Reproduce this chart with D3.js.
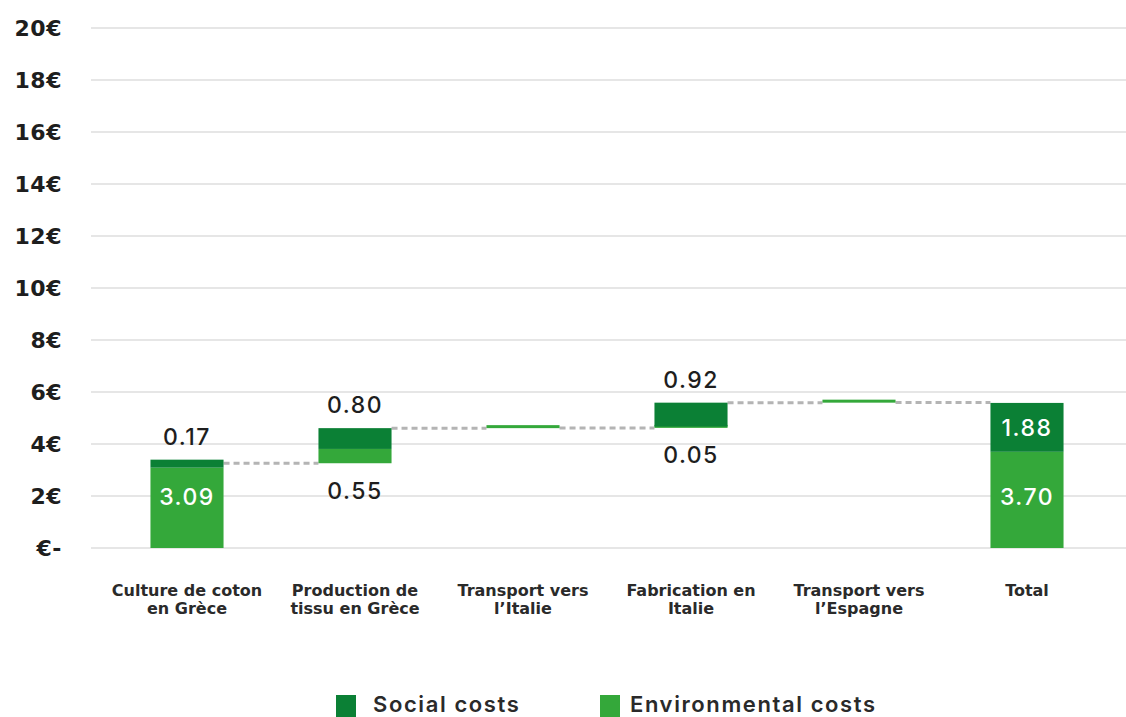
<!DOCTYPE html>
<html>
<head>
<meta charset="utf-8">
<script src="https://cdn.jsdelivr.net/npm/d3@7"></script>
<style>
  body { margin: 0; background: #fff; }
  svg { display: block; font-family: Inter, "Open Sans", sans-serif; }
</style>
</head>
<body>
<svg id="chart" width="1126" height="717"></svg>
<script>
// data
const categories = [
  ["Culture de coton", "en Grèce"],
  ["Production de", "tissu en Grèce"],
  ["Transport vers", "l\u2019Italie"],
  ["Fabrication en", "Italie"],
  ["Transport vers", "l\u2019Espagne"],
  ["Total"]
];
const envCosts = [3.09, 0.55, 0.01, 0.05, 0.01];
const socialCosts = [0.17, 0.80, 0, 0.92, 0];
const totalEnv = 3.70;
const totalSocial = 1.88;
const yTicks = [0, 2, 4, 6, 8, 10, 12, 14, 16, 18, 20];
const seriesNames = ["Social costs", "Environmental costs"];

const DARK = "#0b8035", LIGHT = "#34a83a";

const svg = d3.select("#chart");

const x = d3.scaleBand()
  .domain(d3.range(categories.length))
  .range([103, 1111])
  .paddingInner(0.565)
  .paddingOuter(0.2825);

const y = d3.scaleLinear().domain([0, 20]).range([548, 28]);

// gridlines
svg.append("g")
  .selectAll("line")
  .data(yTicks)
  .join("line")
    .attr("x1", 91).attr("x2", 1126)
    .attr("y1", d => y(d)).attr("y2", d => y(d))
    .attr("stroke", "#e6e6e6")
    .attr("stroke-width", 2);

// y labels
svg.append("g")
  .selectAll("text")
  .data(yTicks)
  .join("text")
    .attr("x", 62)
    .attr("y", d => y(d))
    .attr("dy", "0.36em")
    .attr("text-anchor", "end")
    .attr("font-family", "DejaVu Sans")
    .attr("font-size", 22)
    .attr("font-weight", 700)
    .attr("letter-spacing", 0.5)
    .attr("fill", "#1e1e1e")
    .text(d => d === 0 ? "\u20ac-" : d + "\u20ac");

// waterfall steps
let base = 0;
const steps = envCosts.map((e, i) => {
  const s = socialCosts[i];
  const st = {i, env: e, social: s, y0: base, y1: base + e, y2: base + e + s};
  base += e + s;
  return st;
});

const bw = x.bandwidth();
const g = svg.append("g");

// connectors
const conn = g.append("g");
steps.forEach((d, i) => {
  conn.append("line")
    .attr("x1", x(i) + bw).attr("x2", x(i + 1))
    .attr("y1", y(d.y2)).attr("y2", y(d.y2))
    .attr("stroke", "#b4b4b4")
    .attr("stroke-width", 3)
    .attr("stroke-dasharray", "6,4");
});

steps.forEach(d => {
  const bx = x(d.i);
  const hEnv = Math.max(3, y(d.y0) - y(d.y1));
  g.append("rect")
    .attr("x", bx).attr("width", bw)
    .attr("y", y(d.y0) - hEnv).attr("height", hEnv)
    .attr("fill", LIGHT);
  if (d.social > 0) {
    const hS = Math.max(8, y(d.y1) - y(d.y2));
    g.append("rect")
      .attr("x", bx).attr("width", bw)
      .attr("y", y(d.y1) - hS).attr("height", hS)
      .attr("fill", DARK);
  }
});

// total bar
const ti = categories.length - 1;
g.append("rect")
  .attr("x", x(ti)).attr("width", bw)
  .attr("y", y(totalEnv)).attr("height", y(0) - y(totalEnv))
  .attr("fill", LIGHT);
g.append("rect")
  .attr("x", x(ti)).attr("width", bw)
  .attr("y", y(totalEnv + totalSocial)).attr("height", y(totalEnv) - y(totalEnv + totalSocial))
  .attr("fill", DARK);

// value labels
const lab = svg.append("g")
  .attr("font-size", 23)
  .attr("font-weight", 500)
  .attr("letter-spacing", 1.5)
  .attr("text-anchor", "middle");

function label(i, yy, txt, color) {
  lab.append("text")
    .attr("x", x(i) + bw / 2)
    .attr("y", yy)
    .attr("dy", "0.36em")
    .attr("fill", color)
    .text(txt);
}

const envLabelY = y(totalEnv / 2) - 3;
steps.forEach(d => {
  const cx = d.i;
  const top = y(d.y1) - Math.max(8, y(d.y1) - y(d.y2));
  if (d.i === 0) {
    label(cx, envLabelY, d.env.toFixed(2), "#fff");
    label(cx, top - 23, d.social.toFixed(2), "#1e1e1e");
  } else if (d.social > 0) {
    label(cx, top - 23, d.social.toFixed(2), "#1e1e1e");
    label(cx, y(d.y0) + 27, d.env.toFixed(2), "#1e1e1e");
  }
});
label(ti, envLabelY, totalEnv.toFixed(2), "#fff");
label(ti, y(totalEnv + totalSocial / 2), totalSocial.toFixed(2), "#fff");

// category labels
const cat = svg.append("g")
  .attr("font-family", "DejaVu Sans")
  .attr("font-size", 16)
  .attr("font-weight", 700)
  .attr("letter-spacing", 0)
  .attr("fill", "#2a2a2a")
  .attr("text-anchor", "middle");
categories.forEach((lines, i) => {
  const t = cat.append("text")
    .attr("x", x(i) + bw / 2)
    .attr("y", 596);
  lines.forEach((l, k) => {
    t.append("tspan")
      .attr("x", x(i) + bw / 2)
      .attr("dy", k === 0 ? 0 : 18)
      .text(l);
  });
});

// legend
const leg = svg.append("g");
const legX = [336, 600];
const legColors = [DARK, LIGHT];
seriesNames.forEach((n, i) => {
  leg.append("rect")
    .attr("x", legX[i]).attr("y", 695)
    .attr("width", 20).attr("height", 22)
    .attr("fill", legColors[i]);
  leg.append("text")
    .attr("x", legX[i] + (i === 0 ? 37 : 30))
    .attr("y", 712)
    .attr("font-size", 22)
    .attr("font-weight", 600)
    .attr("letter-spacing", 1.6)
    .attr("fill", "#2a2a2a")
    .text(n);
});
</script>
</body>
</html>
